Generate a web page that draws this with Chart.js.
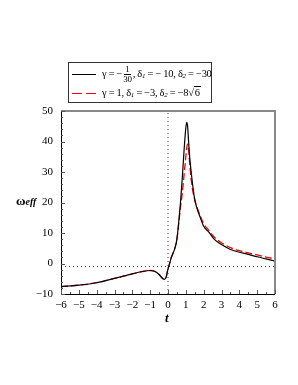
<!DOCTYPE html>
<html>
<head>
<meta charset="utf-8">
<script src="https://cdn.jsdelivr.net/npm/chart.js@4.4.0/dist/chart.umd.min.js"></script>
<style>
    body { margin: 0; background: #fff; }
    #wrap { position: relative; width: 298px; height: 385px; }
    canvas { position: absolute; left: 0; top: 0; }
    .lbl { position: absolute; font-family: "Liberation Serif", serif; color: #000; white-space: nowrap; }
    #legend {
        left: 68px; top: 62px; width: 144px; height: 41px;
        border: 1px solid #333; box-sizing: border-box; font-size: 10.5px; letter-spacing: -0.3px;
    }
    .row { position: absolute; left: 3px; height: 18px; display: flex; align-items: center; }
    .sw { width: 24px; height: 1px; margin-right: 6px; display: flex; gap: 4px; }
    .sw div { flex: 1; height: 1px; background: #f00; }
    .frac { display: inline-flex; flex-direction: column; align-items: center; font-size: 9px; line-height: 9px; vertical-align: middle; margin: 0 1px; }
    .frac span:first-child { border-bottom: 1px solid #000; padding: 0 1px; }
    sub { font-size: 7px; font-style: italic; vertical-align: -1px; }
    .sqrt { border-top: 1px solid #000; padding: 0 1px; }
</style>
</head>
<body>
<div id="wrap">
    <canvas id="chart" width="298" height="385"></canvas>
    <div id="legend" class="lbl">
        <div class="row" style="top:2px;">
            <div class="sw" style="background:#000;"></div>
            <span>γ = −<span class="frac"><span>1</span><span>30</span></span>, δ<sub>1</sub> = − 10, δ<sub>2</sub> = −30</span>
        </div>
        <div class="row" style="top:21px;">
            <div class="sw"><div></div><div></div></div>
            <span>γ = 1, δ<sub>1</sub> = −3, δ<sub>2</sub> = −8√<span class="sqrt">6</span></span>
        </div>
    </div>
    <div class="lbl" style="left:16px; top:193px; font-size:13px; font-weight:bold;">ω<i style="font-size:10px;">eff</i></div>
    <div class="lbl" style="left:165px; top:310px; font-size:13px; font-weight:bold; font-style:italic;">t</div>
</div>
<script>
// time values
const tValues = [-6, -5, -4, -3, -2, -1.5, -1, -0.7, -0.5, -0.3, -0.2, -0.1, 0, 0.1, 0.2, 0.3, 0.4, 0.5, 0.6, 0.7,
    0.8, 0.9, 1.0, 1.05, 1.1, 1.15, 1.2, 1.3, 1.4, 1.5, 1.6, 1.8, 2.0, 2.3, 2.6, 3.0, 3.5, 4.0, 4.5, 5.0, 5.5, 6.0];

// gamma = -1/30, delta1 = -10, delta2 = -30
const omegaBlack = [-7.6, -7.1, -6.3, -4.9, -3.4, -2.7, -2.3, -2.7, -3.6, -4.9, -5.2, -4.4, -1.8, 0.2, 2.2, 3.6, 5.3, 8.0, 13.5, 20,
    28, 37, 44.5, 46.3, 45, 40.5, 36, 30, 25, 21, 18.6, 15.2, 12.2, 10.2, 7.9, 6.2, 4.6, 3.7, 3.0, 2.2, 1.5, 0.8];

// gamma = 1, delta1 = -3, delta2 = -8*sqrt(6)
const omegaRed = [-7.6, -7.1, -6.3, -4.9, -3.4, -2.7, -2.3, -2.7, -3.6, -4.9, -5.2, -4.4, -1.8, 0.2, 2.2, 3.6, 5.3, 8.0, 13, 18.5,
    23, 29, 35, 38, 39.1, 38, 34, 27.5, 23.5, 20.8, 18.8, 15.8, 13, 10.8, 8.6, 6.8, 5.2, 4.2, 3.5, 2.8, 2.1, 1.5];

const xTicks = [-6, -5, -4, -3, -2, -1, 0, 1, 2, 3, 4, 5, 6];
const yTicks = [-10, 0, 10, 20, 30, 40, 50];
const phantomLine = -1;

const toPoints = (xs, ys) => xs.map((x, i) => ({ x: x, y: ys[i] }));
const minus = v => (v < 0 ? '−' + Math.abs(v) : String(v));

// frame and inward ticks
const framePlugin = {
    id: 'frame',
    afterDraw(chart) {
        const { ctx, chartArea: a, scales } = chart;
        ctx.save();
        ctx.strokeStyle = '#888';
        ctx.lineWidth = 2;
        ctx.beginPath();
        ctx.moveTo(a.left, a.top); ctx.lineTo(a.right, a.top); ctx.lineTo(a.right, a.bottom);
        ctx.stroke();
        ctx.strokeStyle = '#000';
        ctx.lineWidth = 1;
        ctx.beginPath();
        ctx.moveTo(a.left + 0.5, a.top); ctx.lineTo(a.left + 0.5, a.bottom + 0.5); ctx.lineTo(a.right, a.bottom + 0.5);
        ctx.stroke();
        ctx.strokeStyle = '#555';
        ctx.beginPath();
        for (let v = -6; v <= 6.001; v += 0.5) {
            const px = Math.round(scales.x.getPixelForValue(v)) + 0.5;
            const len = Number.isInteger(v) ? 4 : 2;
            ctx.moveTo(px, a.bottom); ctx.lineTo(px, a.bottom - len);
        }
        for (let v = -10; v <= 50; v += 2) {
            const py = Math.round(scales.y.getPixelForValue(v)) + 0.5;
            const len = v % 10 === 0 ? 4 : 2;
            ctx.moveTo(a.left, py); ctx.lineTo(a.left + len, py);
        }
        ctx.stroke();
        ctx.restore();
    }
};

new Chart(document.getElementById('chart'), {
    type: 'line',
    data: {
        datasets: [{
            data: [{ x: -6, y: phantomLine }, { x: 6, y: phantomLine }],
            borderColor: '#333', borderWidth: 1, borderDash: [1, 3], pointRadius: 0
        }, {
            data: [{ x: 0, y: -10 }, { x: 0, y: 50 }],
            borderColor: '#333', borderWidth: 1, borderDash: [1, 3], pointRadius: 0
        }, {
            data: toPoints(tValues, omegaBlack),
            borderColor: '#000', borderWidth: 1.2, pointRadius: 0,
            cubicInterpolationMode: 'monotone'
        }, {
            data: toPoints(tValues, omegaRed),
            borderColor: '#f00', borderWidth: 1.3, borderDash: [7, 3], pointRadius: 0,
            cubicInterpolationMode: 'monotone'
        }]
    },
    options: {
        responsive: false,
        animation: false,
        layout: { padding: { left: 0, top: 111, right: 23, bottom: 0 } },
        plugins: { legend: { display: false }, tooltip: { enabled: false } },
        scales: {
            x: {
                type: 'linear', min: -6, max: 6,
                afterFit: s => { s.height = 91; },
                afterBuildTicks: s => { s.ticks = xTicks.map(v => ({ value: v })); },
                grid: { display: false, drawTicks: false },
                border: { display: false },
                ticks: {
                    padding: 5, color: '#000', maxRotation: 0, autoSkip: false,
                    font: { family: 'Liberation Serif', size: 11 },
                    callback: v => minus(v)
                }
            },
            y: {
                type: 'linear', min: -10, max: 50,
                afterFit: s => { s.width = 61; },
                afterBuildTicks: s => { s.ticks = yTicks.map(v => ({ value: v })); },
                grid: { display: false, drawTicks: false },
                border: { display: false },
                ticks: {
                    padding: 8, color: '#000',
                    font: { family: 'Liberation Serif', size: 11 },
                    callback: v => minus(v)
                }
            }
        }
    },
    plugins: [framePlugin]
});
</script>
</body>
</html>
